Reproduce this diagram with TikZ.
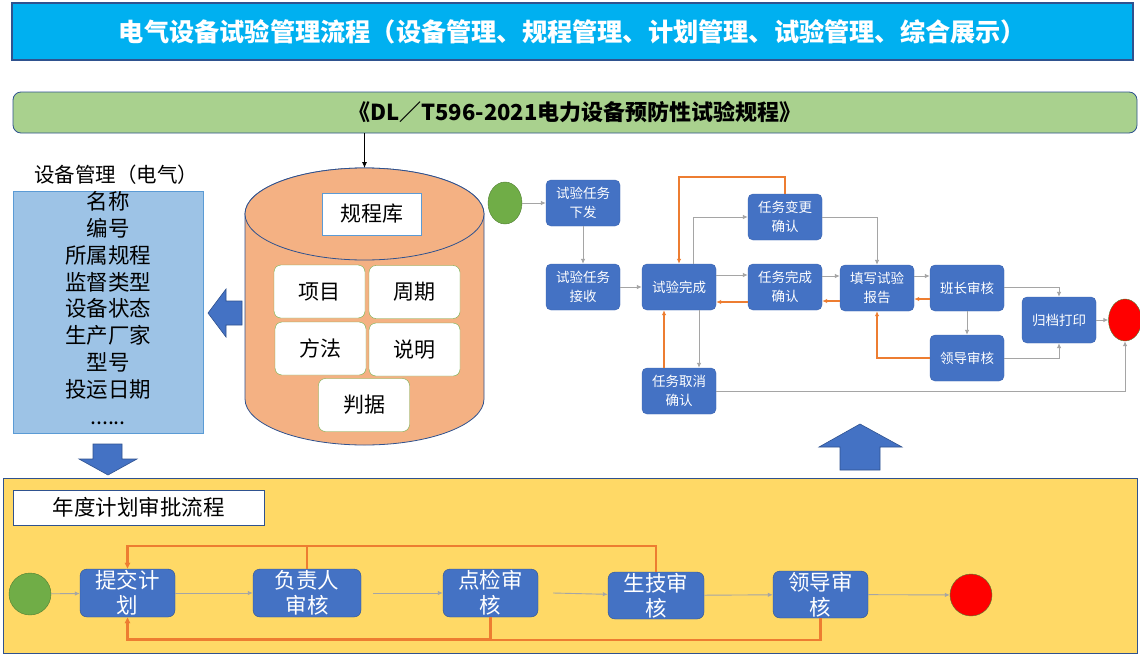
\documentclass[tikz,border=0pt]{standalone}
\usepackage{fontspec}
\setmainfont{Noto Sans CJK SC}
\usetikzlibrary{arrows.meta,shapes.geometric}
\definecolor{titlecyan}{HTML}{00B0F0}
\definecolor{darkblue}{HTML}{2F528F}
\definecolor{barGreen}{HTML}{A9D18E}
\definecolor{listBlue}{HTML}{9DC3E6}
\definecolor{listEdge}{HTML}{5B9BD5}
\definecolor{cylFill}{HTML}{F4B183}
\definecolor{innerEdge}{HTML}{70AD47}
\definecolor{nodeBlue}{HTML}{4472C4}
\definecolor{nodeEdge}{HTML}{3A64B0}
\definecolor{grayArrow}{HTML}{A5A5A5}
\definecolor{orangeArrow}{HTML}{ED7D31}
\definecolor{yellowBox}{HTML}{FFD966}
\definecolor{startGreen}{HTML}{70AD47}
\definecolor{startEdge}{HTML}{507E32}
\definecolor{endRed}{HTML}{FF0000}
\tikzset{
  rflow/.style={draw=nodeEdge, fill=nodeBlue, rounded corners=5pt, text=white, align=center,
    inner sep=0pt, minimum width=74, minimum height=46, font=\fontsize{13.5}{19}\selectfont},
  bflow/.style={draw=darkblue, fill=nodeBlue, rounded corners=7pt, text=white, align=center,
    inner sep=0pt, minimum height=48, font=\fontsize{21.5}{25}\selectfont},
  innerbox/.style={draw=innerEdge, fill=white, rounded corners=7pt, inner sep=0pt,
    minimum width=91, minimum height=53, font=\fontsize{21}{25}\selectfont},
  garrow/.style={draw=grayArrow, line width=0.9pt, -{Latex[length=5pt,width=4.5pt]}},
  oarrow/.style={draw=orangeArrow, line width=1.6pt, -{Latex[length=5pt,width=4.5pt]}},
  obarrow/.style={draw=orangeArrow, line width=2.4pt, -{Latex[length=6pt,width=6pt]}},
  blockarrow/.style={fill=nodeBlue, draw=darkblue, line width=0.6pt},
}
\begin{document}
\begin{tikzpicture}[x=1pt,y=-1pt]
\useasboundingbox (0,0) rectangle (1140,664);
\fill[white] (0,0) rectangle (1140,664);

% title
\node[draw=darkblue, line width=1.2pt, fill=titlecyan, minimum width=1121, minimum height=57, inner sep=0pt,
  text=white, font=\fontsize{25.2}{28}\selectfont\bfseries] (title) at (572.5,31.5)
  {电气设备试验管理流程（设备管理、规程管理、计划管理、试验管理、综合展示）};

% standard bar
\node[draw=darkblue, line width=0.8pt, fill=barGreen, rounded corners=8pt, minimum width=1124, minimum height=41,
  inner sep=0pt, font=\fontsize{22}{24}\selectfont\bfseries] (std) at (575,112.5)
  {《DL／T596-2021电力设备预防性试验规程》};

% equipment management
\node[font=\fontsize{20.5}{24}\selectfont] (eqtitle) at (116,175) {设备管理（电气）};
\node[draw=listEdge, line width=0.8pt, fill=listBlue, minimum width=190, minimum height=242, inner sep=0pt,
  align=center, font=\fontsize{21.5}{26.6}\selectfont] (equip) at (108,312) {};
\node[align=center, font=\fontsize{21.5}{26.8}\selectfont, inner sep=0pt] (equiptext) at (108,308)
  {名称\\编号\\所属规程\\监督类型\\设备状态\\生产厂家\\型号\\投运日期\\......};

% cylinder
\coordinate (cyltop) at (364.5,168);
\path[draw=darkblue, line width=0.8pt, fill=cylFill]
  (245,214) -- (245,399) arc[start angle=180, end angle=0, x radius=119.5, y radius=46]
  -- (484,214) arc[start angle=0, end angle=-180, x radius=119.5, y radius=46] -- cycle;
\draw[darkblue, line width=0.8pt, fill=cylFill] (364.5,214) ellipse[x radius=119.5, y radius=46];
\node[draw=listEdge, line width=0.8pt, fill=white, minimum width=99, minimum height=42, inner sep=0pt,
  font=\fontsize{21}{24}\selectfont] (lib) at (371.5,214) {规程库};
\node[innerbox] (item) at (319.5,291.5) {项目};
\node[innerbox] (cycle) at (414.5,292) {周期};
\node[innerbox] (method) at (320.5,348.5) {方法};
\node[innerbox] (note) at (414.5,349.5) {说明};
\node[innerbox] (crit) at (364,405) {判据};
\draw[-{Latex[length=6pt,width=5pt]}, line width=0.8pt] (std.south -| cyltop) -- (cyltop);

% block arrows
\path[blockarrow] (208,313) -- (226,289) -- (226,301) -- (242,301) -- (242,325) -- (226,325) -- (226,337) -- cycle;
\path[blockarrow] (93,444) -- (122,444) -- (122,459) -- (137,459) -- (108,475) -- (79,459) -- (93,459) -- cycle;
\path[blockarrow] (860,424) -- (902,447) -- (880,447) -- (880,470) -- (840,470) -- (840,447) -- (819,447) -- cycle;

% test management flow
\node[draw=startEdge, fill=startGreen, ellipse, minimum width=34, minimum height=42, inner sep=0pt] (tstart) at (505,203) {};
\node[rflow] (issue) at (583,203) {试验任务\\下发};
\node[rflow] (recv) at (583,287) {试验任务\\接收};
\node[rflow] (done) at (679,287) {试验完成};
\node[rflow] (chg) at (785,217) {任务变更\\确认};
\node[rflow] (comp) at (785,287) {任务完成\\确认};
\node[rflow] (rep) at (877,288) {填写试验\\报告};
\node[rflow] (mon) at (967,288) {班长审核};
\node[rflow] (lead) at (967,358) {领导审核};
\node[rflow] (arch) at (1059,320) {归档打印};
\node[rflow] (cancel) at (679,391) {任务取消\\确认};
\node[draw=startEdge, fill=endRed, ellipse, minimum width=33, minimum height=42, inner sep=0pt] (tend) at (1125,320) {};

\draw[garrow] (tstart) -- (issue);
\draw[garrow] (issue) -- (recv);
\draw[garrow] (recv) -- (done);
\draw[garrow] ([xshift=14]done.north) |- (chg.west);
\draw[garrow] ([yshift=12]done.east) -- ([yshift=12]comp.west);
\draw[oarrow] ([yshift=-15]comp.west) -- ([yshift=-15]done.east);
\draw[garrow] ([xshift=20]done.south) -- ([xshift=20]cancel.north);
\draw[oarrow] ([xshift=-15]cancel.north) -- ([xshift=-15]done.south);
\draw[oarrow] (chg.north) -- ++(0,-17) -| (done.north);
\draw[garrow] (chg.east) -| (rep.north);
\draw[garrow] ([yshift=11]comp.east) -- ([yshift=12]rep.west);
\draw[oarrow] ([yshift=-13]rep.west) -- ([yshift=-14]comp.east);
\draw[garrow] ([yshift=12]rep.east) -- ([yshift=12]mon.west);
\draw[oarrow] ([yshift=-11]mon.west) -- ([yshift=-11]rep.east);
\draw[garrow] (mon) -- (lead);
\draw[oarrow] (lead.west) -| (rep.south);
\draw[garrow] ([yshift=1]mon.east) -| (arch.north);
\draw[garrow] (lead.east) -| (arch.south);
\draw[garrow] (arch) -- (tend);
\draw[garrow] (cancel.east) -| (tend.south);

% annual plan approval
\node[draw=darkblue, line width=0.9pt, fill=yellowBox, minimum width=1134, minimum height=175, inner sep=0pt] (plan) at (570,565.5) {};
\node[draw=darkblue, line width=0.9pt, fill=white, minimum width=251, minimum height=35, inner sep=0pt,
  font=\fontsize{21.5}{24}\selectfont] (plantitle) at (138.5,507.5) {年度计划审批流程};
\node[draw=startEdge, fill=startGreen, circle, minimum size=42, inner sep=0pt] (pstart) at (30,594) {};
\node[bflow, minimum width=95] (n1) at (127.5,593) {提交计\\划};
\node[bflow, minimum width=108] (n2) at (307,593) {负责人\\审核};
\node[bflow, minimum width=95] (n3) at (490.5,593) {点检审\\核};
\node[bflow, minimum width=96, minimum height=47] (n4) at (656,595.5) {生技审\\核};
\node[bflow, minimum width=95, minimum height=47] (n5) at (820.5,594.5) {领导审\\核};
\node[draw=startEdge, fill=endRed, circle, minimum size=42, inner sep=0pt] (pend) at (971,595) {};

\draw[garrow] (pstart) -- (n1);
\draw[garrow] (n1) -- (n2);
\draw[garrow] ([xshift=12]n2.east) -- (n3);
\draw[garrow] ([xshift=15]n3.east) -- (n4);
\draw[garrow] (n4) -- (n5);
\draw[garrow] (n5) -- (pend);
\draw[obarrow] (n4.north) -- ++(0,-26) -| (n1.north);
\draw[obarrow] (n2.north) -- ++(0,-23) -| (n1.north);
\draw[obarrow] (n5.south) -- ++(0,22) -| (n1.south);
\draw[obarrow] (n3.south) -- ++(0,22) -| (n1.south);
\end{tikzpicture}
\end{document}
